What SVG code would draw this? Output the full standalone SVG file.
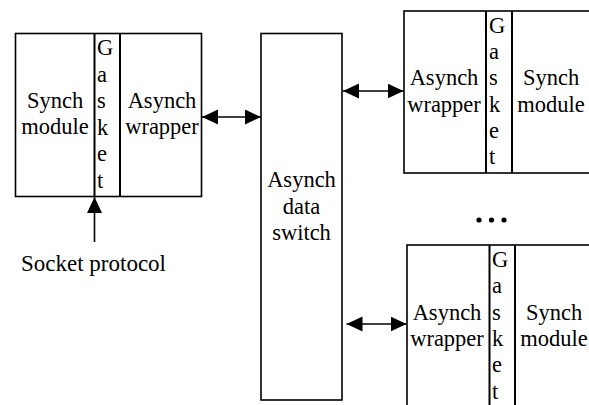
<svg xmlns="http://www.w3.org/2000/svg" width="589" height="405" viewBox="0 0 589 405">
  <style>
    .box { fill: #fff; stroke: #000; stroke-width: 1.6; }
    .div { stroke: #000; stroke-width: 2; }
    .lbl { font-family: "Liberation Serif", "Times New Roman", serif; font-size: 22.5px; fill: #000; }
    .mid { text-anchor: middle; }
    .wire { stroke: #000; stroke-width: 1.6; fill: none; }
  </style>
  <defs>
    <marker id="head" markerUnits="userSpaceOnUse" markerWidth="17" markerHeight="16" refX="16" refY="7.5" orient="auto-start-reverse">
      <path d="M0,0 L16,7.5 L0,15 Z" fill="#000"/>
    </marker>
  </defs>

  <!-- left node: synch module + gasket + asynch wrapper -->
  <g id="node-left">
    <rect class="box" x="15.5" y="33.5" width="186" height="163"/>
    <line class="div" x1="94.5" y1="33.5" x2="94.5" y2="196.5"/>
    <line class="div" x1="120" y1="33.5" x2="120" y2="196.5"/>
    <text class="lbl mid" x="55" y="107.5">Synch</text>
    <text class="lbl mid" x="55" y="134">module</text>
    <text class="lbl" x="97" y="55">G</text>
    <text class="lbl" x="97" y="81.5">a</text>
    <text class="lbl" x="97" y="108">s</text>
    <text class="lbl" x="97" y="134.5">k</text>
    <text class="lbl" x="97" y="161">e</text>
    <text class="lbl" x="97" y="187.5">t</text>
    <text class="lbl mid" x="162" y="107.5">Asynch</text>
    <text class="lbl mid" x="162" y="134">wrapper</text>
  </g>

  <!-- central asynchronous data switch -->
  <g id="node-switch">
    <rect class="box" x="261" y="33.5" width="81" height="366.5"/>
    <text class="lbl mid" x="301.5" y="187">Asynch</text>
    <text class="lbl mid" x="301.5" y="213.5">data</text>
    <text class="lbl mid" x="301.5" y="240">switch</text>
  </g>

  <!-- upper right node -->
  <g id="node-top-right">
    <rect class="box" x="404" y="11" width="190" height="162"/>
    <line class="div" x1="486" y1="11" x2="486" y2="173"/>
    <line class="div" x1="512" y1="11" x2="512" y2="173"/>
    <text class="lbl mid" x="444" y="84.5">Asynch</text>
    <text class="lbl mid" x="444" y="111.5">wrapper</text>
    <text class="lbl" x="489" y="32.5">G</text>
    <text class="lbl" x="489" y="59">a</text>
    <text class="lbl" x="489" y="85">s</text>
    <text class="lbl" x="489" y="111.5">k</text>
    <text class="lbl" x="489" y="137.5">e</text>
    <text class="lbl" x="489" y="164">t</text>
    <text class="lbl mid" x="551" y="84.5">Synch</text>
    <text class="lbl mid" x="551" y="111.5">module</text>
  </g>

  <!-- ellipsis between the right nodes -->
  <g id="ellipsis">
    <circle cx="479" cy="220" r="2.6"/>
    <circle cx="491.5" cy="220" r="2.6"/>
    <circle cx="504" cy="220" r="2.6"/>
  </g>

  <!-- lower right node -->
  <g id="node-bottom-right">
    <rect class="box" x="407" y="245" width="190" height="170"/>
    <line class="div" x1="489.5" y1="245" x2="489.5" y2="410"/>
    <line class="div" x1="515" y1="245" x2="515" y2="410"/>
    <text class="lbl mid" x="447" y="320">Asynch</text>
    <text class="lbl mid" x="447" y="345.5">wrapper</text>
    <text class="lbl" x="492" y="267">G</text>
    <text class="lbl" x="492" y="293">a</text>
    <text class="lbl" x="492" y="320">s</text>
    <text class="lbl" x="492" y="345.5">k</text>
    <text class="lbl" x="492" y="372">e</text>
    <text class="lbl" x="492" y="399">t</text>
    <text class="lbl mid" x="554" y="320">Synch</text>
    <text class="lbl mid" x="554" y="345.5">module</text>
  </g>

  <!-- socket protocol label -->
  <g id="socket-label">
    <text class="lbl" x="21" y="270.5" style="font-size:23px">Socket protocol</text>
  </g>

  <!-- connectors -->
  <g id="connectors">
    <line class="wire" x1="202" y1="117" x2="261" y2="117" marker-start="url(#head)" marker-end="url(#head)"/>
    <line class="wire" x1="343" y1="91" x2="403.5" y2="91" marker-start="url(#head)" marker-end="url(#head)"/>
    <line class="wire" x1="346.5" y1="324" x2="406.5" y2="324" marker-start="url(#head)" marker-end="url(#head)"/>
    <line class="wire" x1="94.5" y1="242" x2="94.5" y2="197" marker-end="url(#head)"/>
  </g>
</svg>
